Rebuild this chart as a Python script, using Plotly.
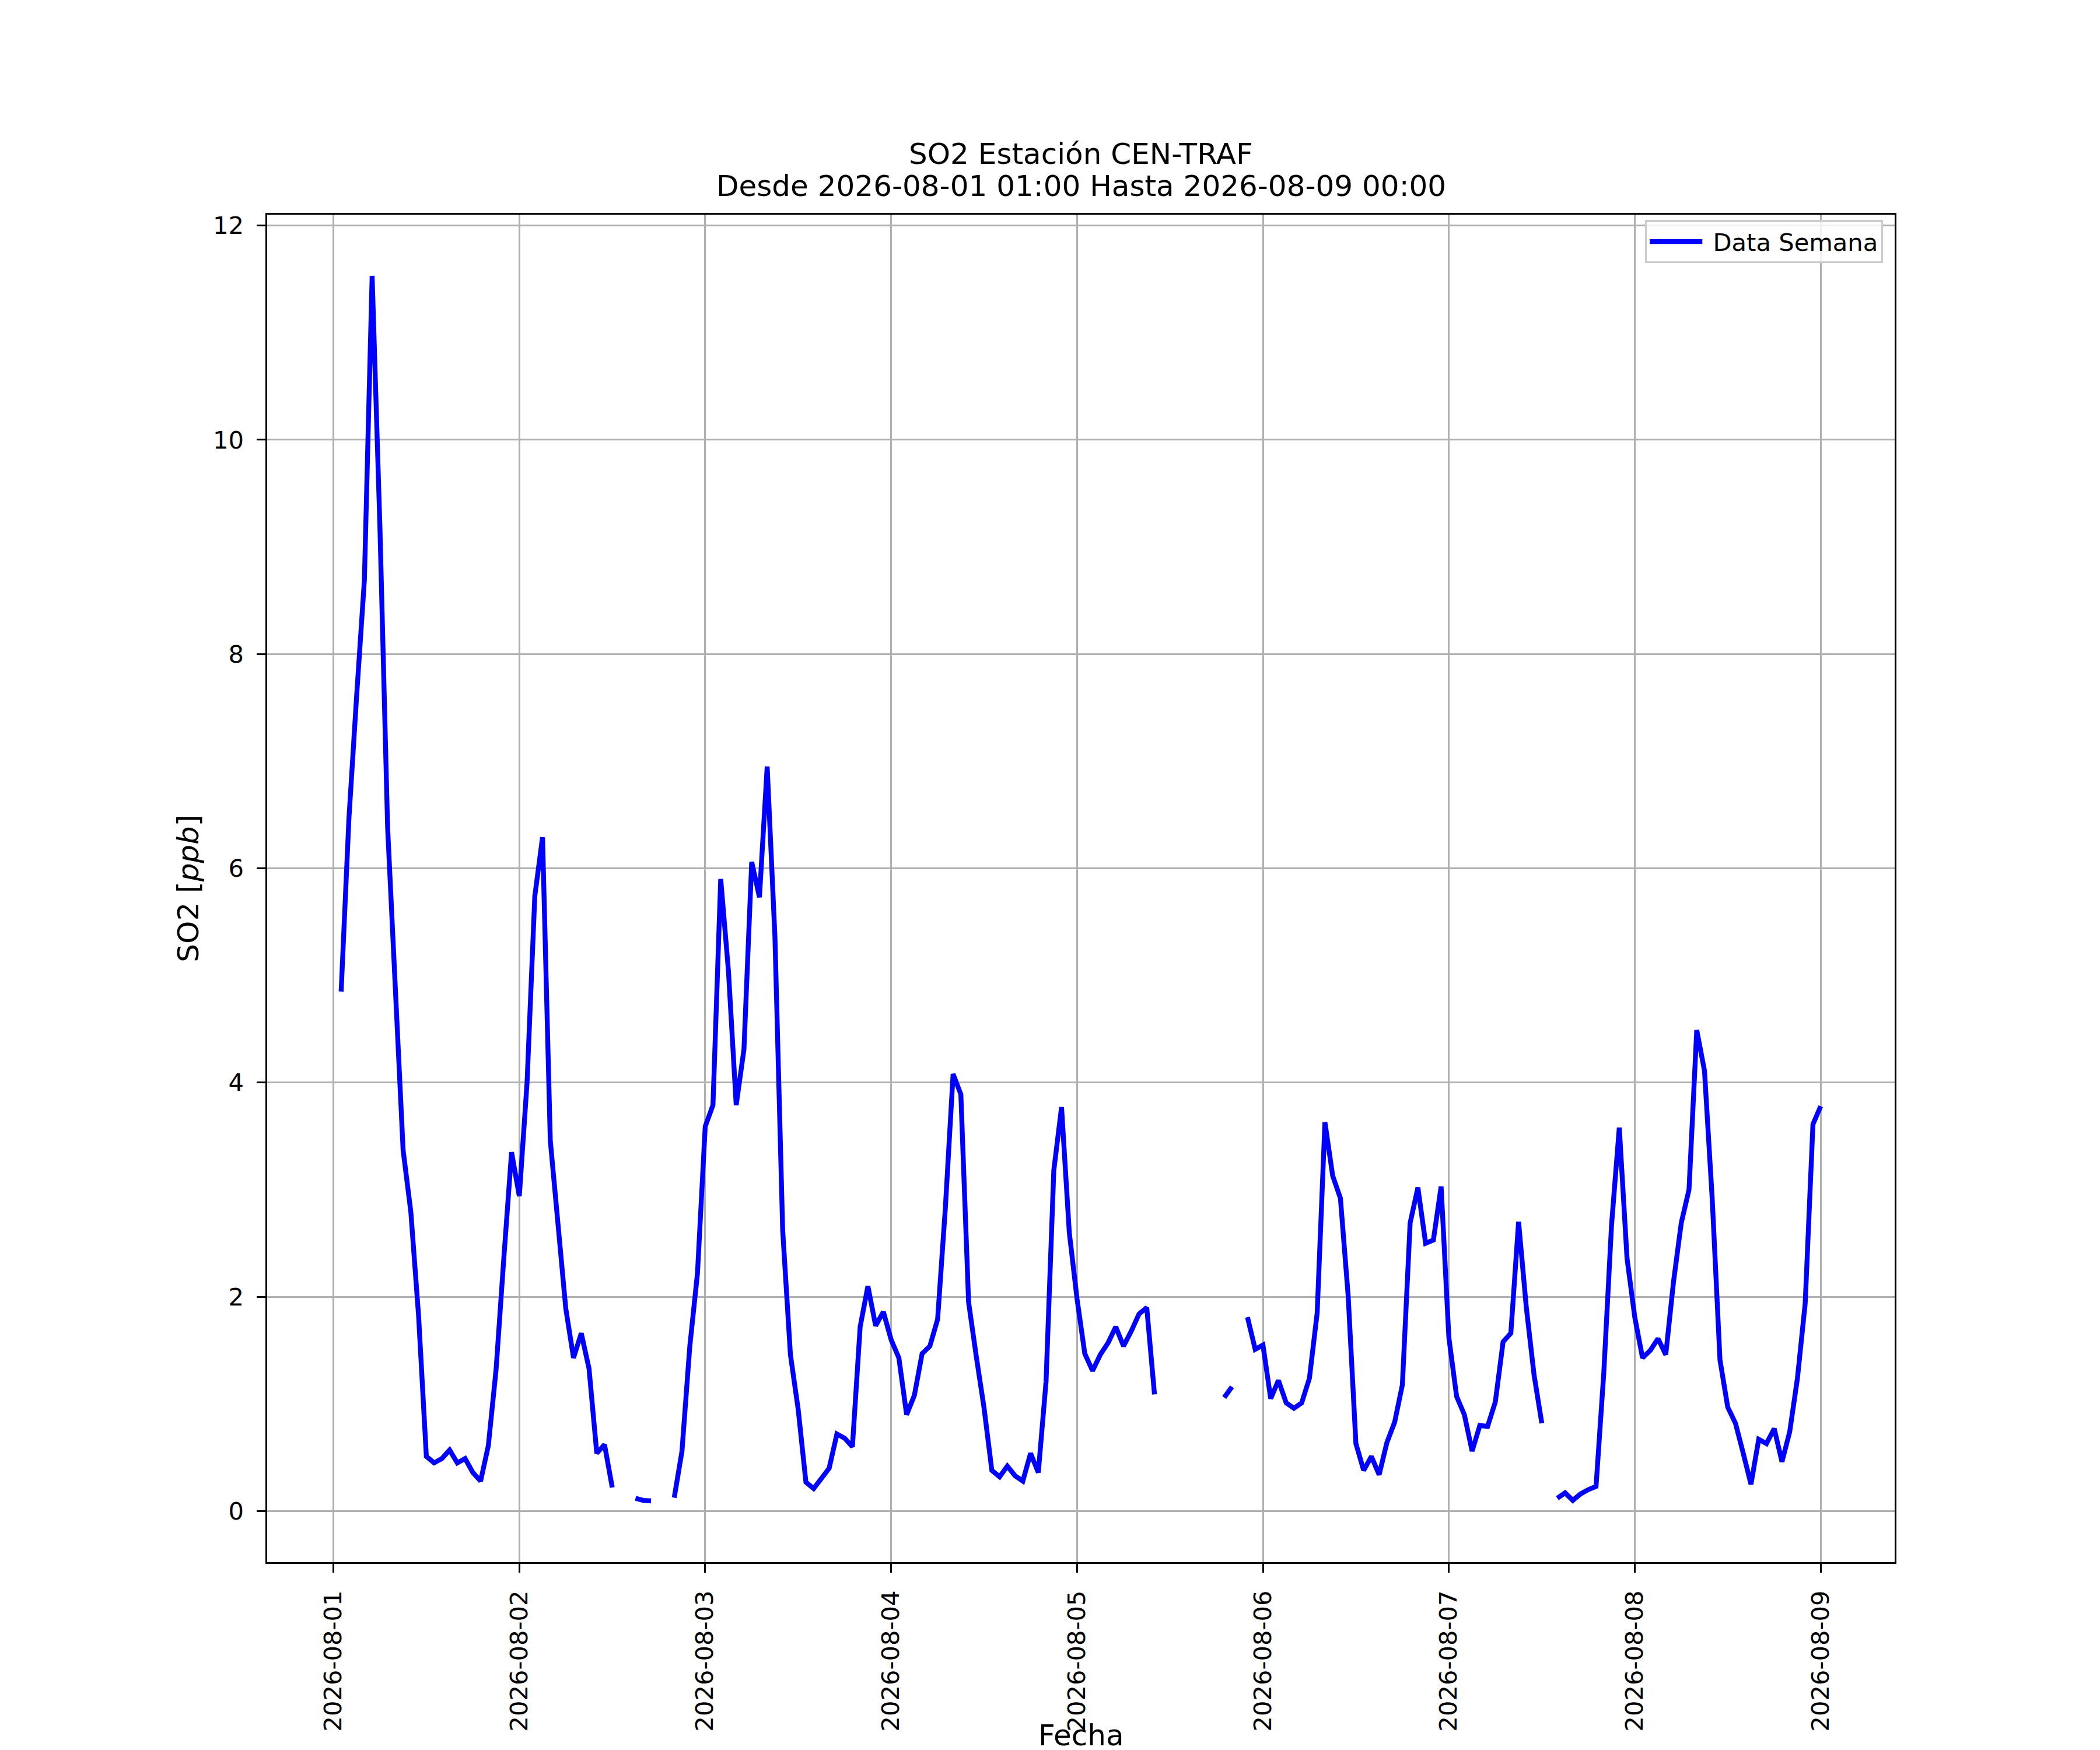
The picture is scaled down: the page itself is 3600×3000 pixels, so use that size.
import pandas as pd
import plotly.graph_objects as go

# SO2 hourly means [ppb]; each list runs 01:00 .. 24:00 (= 00:00 of the next day)
# None = no data for that hour
dia_01 = [4.85, 6.46, 7.61, 8.69, 11.53, 9.2, 6.38, 4.9, 3.37, 2.79, 1.82, 0.51,
          0.45, 0.49, 0.57, 0.45, 0.49, 0.36, 0.28, 0.61, 1.32, 2.36, 3.35, 2.94]
dia_02 = [4.0, 5.74, 6.29, 3.46, 2.65, 1.89, 1.43, 1.66, 1.33, 0.54, 0.62, 0.22,
          None, None, 0.12, 0.10, 0.095, None, None, 0.125, 0.56, 1.53, 2.22, 3.59]
dia_03 = [3.79, 5.90, 5.04, 3.79, 4.31, 6.06, 5.73, 6.95, 5.36, 2.62, 1.46, 0.95,
          0.27, 0.21, 0.31, 0.40, 0.72, 0.68, 0.60, 1.72, 2.10, 1.73, 1.86, 1.60]
dia_04 = [1.43, 0.90, 1.08, 1.47, 1.54, 1.79, 2.83, 4.08, 3.89, 1.95, 1.44, 0.96,
          0.38, 0.32, 0.42, 0.33, 0.28, 0.54, 0.36, 1.21, 3.18, 3.77, 2.60, 1.98]
dia_05 = [1.47, 1.31, 1.46, 1.57, 1.72, 1.54, 1.68, 1.84, 1.90, 1.09, None, None,
          None, None, None, None, None, None, 1.06, 1.16, None, 1.81, 1.51, 1.55]
dia_06 = [1.05, 1.22, 1.01, 0.96, 1.01, 1.24, 1.85, 3.63, 3.13, 2.92, 2.01, 0.63,
          0.38, 0.51, 0.34, 0.64, 0.83, 1.18, 2.69, 3.02, 2.50, 2.53, 3.03, 1.62]
dia_07 = [1.07, 0.90, 0.56, 0.80, 0.79, 1.02, 1.58, 1.66, 2.70, 1.90, 1.27, 0.82,
          None, 0.12, 0.17, 0.10, 0.16, 0.20, 0.23, 1.29, 2.67, 3.58, 2.36, 1.81]
dia_08 = [1.43, 1.50, 1.61, 1.46, 2.14, 2.69, 3.00, 4.49, 4.11, 2.91, 1.41, 0.97,
          0.82, 0.54, 0.25, 0.67, 0.63, 0.77, 0.46, 0.74, 1.24, 1.94, 3.61, 3.78]

so2 = dia_01 + dia_02 + dia_03 + dia_04 + dia_05 + dia_06 + dia_07 + dia_08
fechas = pd.date_range('2026-08-01 01:00', periods=len(so2), freq='h')

titulo_1 = 'SO2 Estación CEN-TRAF'
titulo_2 = 'Desde 2026-08-01 01:00 Hasta 2026-08-09 00:00'

# matplotlib-like autoscale (5% margins)
validos = [v for v in so2 if v is not None]
ymin, ymax = min(validos), max(validos)
ypad = 0.05 * (ymax - ymin)
xpad = 0.05 * (fechas[-1] - fechas[0])
x_range = [fechas[0] - xpad, fechas[-1] + xpad]

FONT = 'DejaVu Sans'
PT = 300 / 72  # figure was 12x10 in at 300 dpi

fig = go.Figure()
fig.add_trace(go.Scatter(x=fechas, y=so2, mode='lines', name='\u00a0Data Semana',
                         line=dict(color='#0000ff', width=2 * PT), connectgaps=False))

axis_common = dict(showline=True, mirror=True, linecolor='black', linewidth=0.8 * PT,
                   showgrid=True, gridcolor='#b0b0b0', gridwidth=0.8 * PT,
                   ticks='outside', ticklen=3.5 * PT, tickwidth=0.8 * PT, tickcolor='black',
                   tickfont=dict(family=FONT, size=10 * PT, color='black'),
                   zeroline=False, ticklabelstandoff=14)

fig.update_xaxes(range=x_range, tickformat='%Y-%m-%d', dtick=86400000,
                 tick0='2026-08-01', tickangle=-90, **axis_common)
fig.update_yaxes(range=[ymin - ypad, ymax + ypad], tickvals=[0, 2, 4, 6, 8, 10, 12],
                 **axis_common)

title_font = dict(family=FONT, size=12 * PT, color='black')

fig.update_layout(
    width=3600, height=3000,
    margin=dict(l=450, r=360, t=360, b=330, autoexpand=False),
    paper_bgcolor='white', plot_bgcolor='white',
    font=dict(family=FONT, color='black'),
    showlegend=True,
    legend=dict(x=0.9928, xanchor='right', y=0.996, yanchor='top',
                bgcolor='rgba(255,255,255,0.8)', bordercolor='#cccccc',
                borderwidth=0.8 * PT, itemwidth=90,
                font=dict(family=FONT, size=10 * PT, color='black')),
    annotations=[
        dict(text=titulo_1, xref='paper', yref='paper', x=0.5, y=1.0450,
             xanchor='center', yanchor='middle', showarrow=False, font=title_font),
        dict(text=titulo_2, xref='paper', yref='paper', x=0.5, y=1.0212,
             xanchor='center', yanchor='middle', showarrow=False, font=title_font),
        dict(text='Fecha', xref='paper', yref='paper', x=0.5, y=-0.142,
             xanchor='center', yanchor='bottom', showarrow=False, font=title_font),
        dict(text='SO2 [<i>ppb</i>]', xref='paper', yref='paper', x=-0.0485, y=0.5,
             xanchor='center', yanchor='middle', textangle=-90, showarrow=False,
             font=title_font),
    ],
)

fig.write_html('out.html')
